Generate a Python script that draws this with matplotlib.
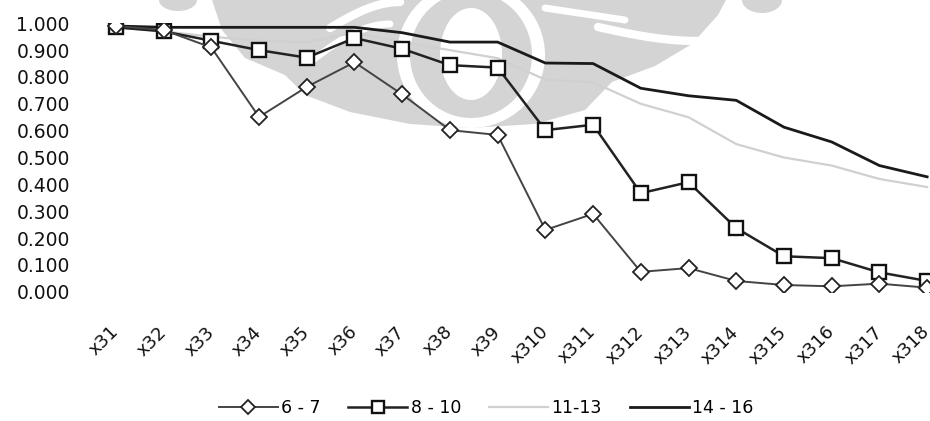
import matplotlib
matplotlib.use("Agg")
import matplotlib.pyplot as plt
from matplotlib.patches import Ellipse, Polygon
import numpy as np

# Category labels along the x axis
categories = ["x31", "x32", "x33", "x34", "x35", "x36", "x37", "x38", "x39",
              "x310", "x311", "x312", "x313", "x314", "x315", "x316", "x317", "x318"]

# Series values per age group
age_6_7 = [0.990, 0.975, 0.910, 0.651, 0.763, 0.855, 0.735, 0.602, 0.584,
           0.230, 0.290, 0.074, 0.088, 0.040, 0.025, 0.020, 0.030, 0.015]
age_8_10 = [0.985, 0.970, 0.935, 0.900, 0.872, 0.945, 0.905, 0.844, 0.835,
            0.602, 0.622, 0.367, 0.408, 0.237, 0.132, 0.125, 0.072, 0.040]
age_11_13 = [0.985, 0.970, 0.950, 0.935, 0.930, 0.965, 0.930, 0.900, 0.870,
             0.790, 0.780, 0.700, 0.650, 0.550, 0.500, 0.470, 0.420, 0.390]
age_14_16 = [0.990, 0.985, 0.985, 0.985, 0.985, 0.985, 0.965, 0.930, 0.930,
             0.852, 0.850, 0.758, 0.730, 0.713, 0.613, 0.558, 0.470, 0.428]

series_labels = ["6 - 7", "8 - 10", "11-13", "14 - 16"]
y_ticks = [0.0, 0.1, 0.2, 0.3, 0.4, 0.5, 0.6, 0.7, 0.8, 0.9, 1.0]

W, H = 930, 421
fig = plt.figure(figsize=(W / 100, H / 100), dpi=100)
fig.patch.set_facecolor("white")

# faint background emblem, drawn in pixel coordinates on a full-figure layer
bg = fig.add_axes([0, 0, 1, 1], zorder=0)
bg.set_xlim(0, W)
bg.set_ylim(H, 0)
bg.axis("off")
wm = "#d4d4d4"
outline = [(212, 0), (222, 30), (245, 58), (285, 75), (305, 95), (350, 112),
           (410, 124), (470, 128), (535, 124), (585, 110), (612, 82),
           (655, 66), (692, 44), (718, 15), (726, 0)]
bg.add_patch(Polygon(outline, closed=True, facecolor=wm, edgecolor="none"))
bg.add_patch(Ellipse((178, 0), 38, 22, facecolor=wm, edgecolor="none"))
bg.add_patch(Ellipse((762, 0), 40, 26, facecolor=wm, edgecolor="none"))
bg.add_patch(Ellipse((471, 55), 148, 146, facecolor="white", edgecolor="none"))
bg.add_patch(Ellipse((471, 55), 122, 126, facecolor=wm, edgecolor="none"))
bg.add_patch(Ellipse((471, 54), 62, 92, facecolor="white", edgecolor="none"))
# curved light stripes across the wings
t = np.linspace(0, 1, 30)
bg.plot(330 + 70 * t, 28 - 26 * np.sin(t * np.pi / 2), color="white", lw=6,
        solid_capstyle="round")
bg.plot(310 + 80 * t, 62 - 38 * np.sin(t * np.pi / 2), color="white", lw=5,
        solid_capstyle="round")
bg.plot(598 + 100 * t, 27 + 14 * np.sin(t * np.pi / 2), color="white", lw=6,
        solid_capstyle="round")
bg.plot(545 + 80 * t, 8 + 12 * t, color="white", lw=5, solid_capstyle="round")

# plot area in pixel terms (extends slightly past the right edge)
left_px, right_px = 92, 951
top_px, bottom_px = 23.3, 291.7
ax = fig.add_axes([left_px / W, 1 - bottom_px / H,
                   (right_px - left_px) / W, (bottom_px - top_px) / H], zorder=1)
ax.set_facecolor("none")

x = np.arange(len(categories))

l3, = ax.plot(x, age_11_13, color="#d0d0d0", lw=1.6, zorder=2)
l4, = ax.plot(x, age_14_16, color="#1a1a1a", lw=2.0, zorder=3)
l2, = ax.plot(x, age_8_10, color="#222222", lw=1.8, marker="s", markersize=10.5,
              markerfacecolor="white", markeredgecolor="#111111",
              markeredgewidth=1.7, zorder=4)
l1, = ax.plot(x, age_6_7, color="#444444", lw=1.4, marker="D", markersize=8.5,
              markerfacecolor="white", markeredgecolor="#222222",
              markeredgewidth=1.3, zorder=5)

ax.set_xlim(-0.5, len(categories) - 0.5)
ax.set_ylim(0, 1.0)
ax.set_yticks(y_ticks)
ax.set_yticklabels([f"{v:.3f}" for v in y_ticks])
ax.set_xticks(x)
ax.set_xticklabels(categories, rotation=45, ha="right", va="center",
                   rotation_mode="anchor")
for s in ax.spines.values():
    s.set_visible(False)
ax.tick_params(axis="y", length=0, pad=16, labelsize=13.5, labelcolor="#111111")
ax.tick_params(axis="x", length=0, pad=27, labelsize=13, labelcolor="#111111")

leg = fig.legend([l1, l2, l3, l4], series_labels,
                 loc="center", bbox_to_anchor=(486 / W, 1 - 408 / H), ncol=4,
                 frameon=False, fontsize=12.5, handlelength=3.4,
                 columnspacing=1.6, handletextpad=0.2, markerscale=0.8)

fig.savefig("out.png", dpi=100, facecolor="white")
